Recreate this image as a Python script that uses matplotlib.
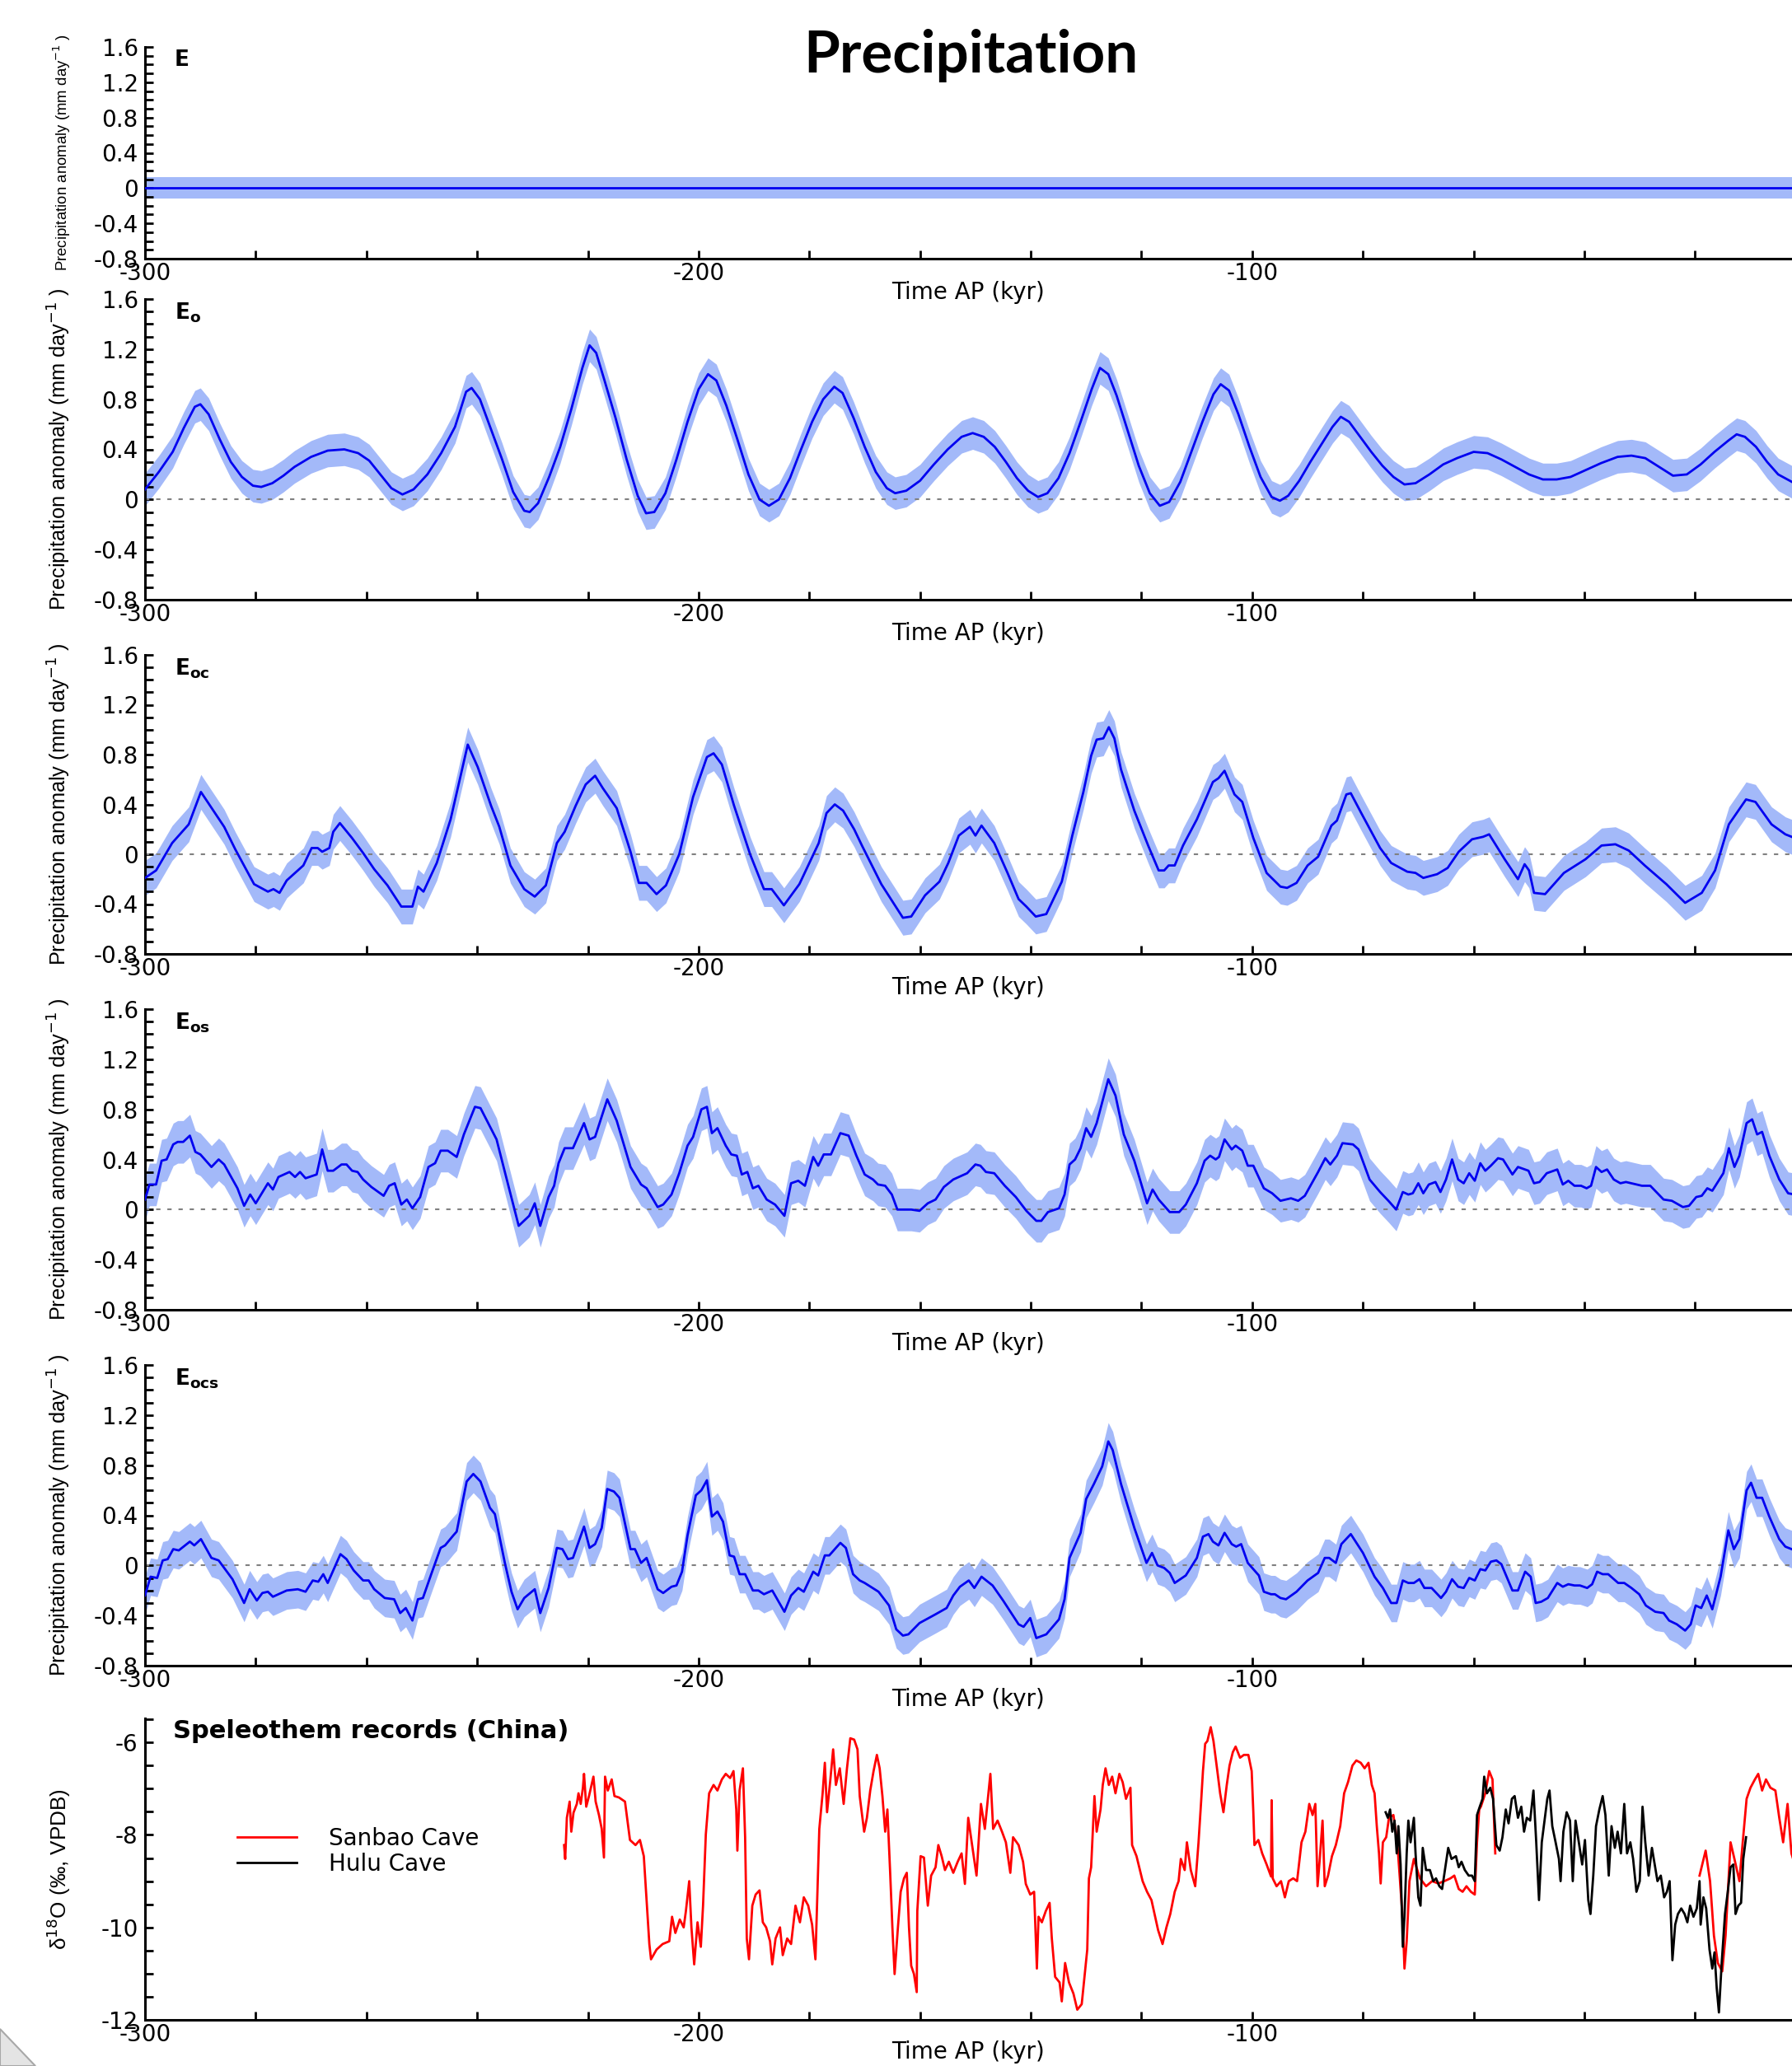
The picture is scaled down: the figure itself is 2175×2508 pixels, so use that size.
import numpy as np
import matplotlib
matplotlib.use('Agg')
import matplotlib.pyplot as plt
from matplotlib.ticker import MultipleLocator, FuncFormatter
from matplotlib.patches import Polygon
from matplotlib.lines import Line2D

plt.rcParams['axes.unicode_minus'] = False
plt.rcParams['font.family'] = ['DejaVu Sans']
plt.rcParams['mathtext.fontset'] = 'dejavusans'

# ---------------- data (time in kyr AP, anomaly in mm/day) ----------------
E_T = [-300, 0]
E_V = [0.0, 0.0]
E_ERR = 0.12

EO = np.array([(-300,0.08),(-297.5,0.22),(-295,0.38),(-293,0.57),(-291,0.74),(-290,0.76),(-288.5,0.68),(-286.5,0.48),(-284.5,0.30),(-282.5,0.18),(-280.5,0.11),(-279,0.10),(-277,0.13),(-275,0.19),(-273,0.26),(-270,0.34),(-267,0.39),(-264,0.40),(-261.5,0.37),(-259.5,0.31),(-257.5,0.20),(-255.5,0.09),(-253.5,0.04),(-251.5,0.08),(-249,0.20),(-246.5,0.37),(-244,0.58),(-242,0.86),(-241,0.89),(-239.5,0.80),(-237.5,0.56),(-235.5,0.32),(-233.5,0.06),(-231.5,-0.09),(-230.5,-0.10),(-229,-0.03),(-227,0.18),(-225,0.42),(-223,0.72),(-221,1.05),(-219.7,1.23),(-218.5,1.17),(-217,0.95),(-215,0.65),(-213,0.32),(-211,0.03),(-209.5,-0.11),(-208,-0.10),(-206,0.05),(-204,0.32),(-202,0.62),(-200,0.88),(-198.3,1.0),(-196.8,0.95),(-195,0.75),(-193,0.48),(-191,0.20),(-189,0.0),(-187.3,-0.05),(-185.5,0.0),(-183.5,0.17),(-181.5,0.40),(-179.5,0.62),(-177.5,0.80),(-175.5,0.90),(-174,0.85),(-172,0.65),(-170,0.42),(-168,0.22),(-166,0.09),(-164.5,0.05),(-162.5,0.07),(-160,0.15),(-157.5,0.28),(-155,0.40),(-152.5,0.50),(-150.5,0.53),(-148.5,0.50),(-146.5,0.42),(-144.5,0.30),(-142.5,0.17),(-140.5,0.07),(-138.7,0.02),(-137,0.05),(-135,0.17),(-133,0.37),(-131,0.62),(-129,0.88),(-127.5,1.05),(-126,1.0),(-124.5,0.83),(-122.5,0.55),(-120.5,0.27),(-118.5,0.05),(-116.7,-0.05),(-115,-0.02),(-113,0.14),(-111,0.38),(-109,0.62),(-107,0.84),(-105.7,0.92),(-104.2,0.87),(-102.5,0.68),(-100.5,0.42),(-98.5,0.18),(-96.5,0.02),(-95,-0.01),(-93.5,0.03),(-91.5,0.15),(-89.5,0.30),(-87.5,0.44),(-85.5,0.58),(-84,0.66),(-82.5,0.62),(-80.5,0.50),(-78.5,0.38),(-76.5,0.27),(-74.5,0.18),(-72.5,0.12),(-70.5,0.13),(-68,0.20),(-65.5,0.28),(-63,0.33),(-60,0.38),(-57.5,0.37),(-55,0.32),(-52.5,0.26),(-50,0.20),(-47.5,0.16),(-45,0.16),(-42.5,0.18),(-40,0.23),(-37,0.29),(-34,0.34),(-31.5,0.35),(-29,0.33),(-26.5,0.26),(-24,0.19),(-21.5,0.20),(-19,0.28),(-16.5,0.38),(-14,0.47),(-12.5,0.52),(-11,0.50),(-9,0.42),(-7,0.30),(-5,0.20),(-2.5,0.14)])
EO_ERR = 0.13

EOC = np.array([(-300,-0.19),(-298,-0.13),(-295.1,0.09),(-292.1,0.24),(-289.9,0.50),(-285.7,0.22),(-283.7,0.04),(-280.3,-0.24),(-277.8,-0.30),(-276.8,-0.28),(-275.7,-0.31),(-274.4,-0.21),(-271.4,-0.09),(-269.9,0.05),(-268.8,0.05),(-268,0.02),(-266.7,0.05),(-266,0.18),(-264.8,0.25),(-262.6,0.13),(-260.6,0.01),(-258.6,-0.12),(-256.2,-0.25),(-253.7,-0.42),(-251.7,-0.42),(-250.7,-0.26),(-249.7,-0.30),(-247.3,-0.07),(-244.8,0.28),(-241.7,0.88),(-239.9,0.70),(-237.5,0.39),(-236,0.22),(-234,-0.09),(-231.5,-0.28),(-229.6,-0.34),(-227.6,-0.25),(-225.6,0.09),(-224.2,0.18),(-222.2,0.39),(-220.4,0.56),(-218.7,0.63),(-217.3,0.53),(-214.8,0.37),(-212.3,0.02),(-210.8,-0.23),(-209.4,-0.23),(-207.6,-0.32),(-205.9,-0.25),(-203.5,0.0),(-201,0.46),(-198.5,0.78),(-197.3,0.81),(-195.8,0.72),(-193.6,0.39),(-190.7,0.0),(-188.2,-0.28),(-186.8,-0.28),(-184.6,-0.41),(-181.8,-0.24),(-178.3,0.09),(-176.9,0.33),(-175.4,0.40),(-173.9,0.35),(-171.9,0.20),(-170.5,0.07),(-167,-0.24),(-163.1,-0.51),(-161.6,-0.50),(-159.1,-0.33),(-156.5,-0.22),(-154.9,-0.07),(-153,0.15),(-151,0.22),(-150,0.15),(-148.9,0.23),(-146.6,0.09),(-144.2,-0.15),(-142.2,-0.36),(-140.8,-0.42),(-139.1,-0.50),(-137.2,-0.48),(-134.4,-0.22),(-132.5,0.15),(-130.5,0.50),(-129.1,0.79),(-128.1,0.92),(-126.9,0.93),(-125.9,1.02),(-124.9,0.93),(-123.7,0.68),(-121.3,0.35),(-118.8,0.07),(-116.9,-0.13),(-115.9,-0.13),(-115.1,-0.09),(-114,-0.09),(-112.5,0.07),(-110,0.28),(-107.1,0.58),(-106.1,0.61),(-105,0.67),(-103.2,0.48),(-101.8,0.42),(-99.8,0.13),(-97.4,-0.15),(-94.9,-0.26),(-93.7,-0.27),(-92,-0.23),(-90,-0.09),(-88.1,-0.02),(-85.7,0.23),(-84.7,0.27),(-83,0.48),(-82.2,0.49),(-80.3,0.33),(-76.9,0.05),(-74.9,-0.07),(-72,-0.14),(-70.5,-0.15),(-69.1,-0.19),(-66.6,-0.16),(-64.7,-0.11),(-62.7,0.02),(-60.3,0.12),(-58.3,0.14),(-57.2,0.16),(-54.4,-0.04),(-52,-0.20),(-50.8,-0.08),(-50,-0.13),(-49.1,-0.31),(-47.1,-0.32),(-43.7,-0.15),(-39.8,-0.04),(-36.9,0.07),(-34.4,0.08),(-32,0.03),(-29.1,-0.09),(-25.2,-0.24),(-21.8,-0.39),(-18.8,-0.31),(-16.4,-0.13),(-13.9,0.24),(-12.5,0.33),(-10.8,0.44),(-9.1,0.42),(-6.2,0.24),(-3.7,0.16),(-2,0.13)])
EOC_ERR = 0.14

EOS = np.array([(-300,0.08),(-299.2,0.20),(-298,0.20),(-297,0.39),(-296.1,0.40),(-294.9,0.52),(-294.1,0.54),(-293.1,0.54),(-291.9,0.59),(-290.9,0.46),(-290,0.44),(-288,0.34),(-286.7,0.40),(-285.7,0.36),(-283.3,0.17),(-282.1,0.03),(-281,0.12),(-280,0.05),(-277.8,0.21),(-276.9,0.16),(-275.9,0.26),(-274.9,0.28),(-273.9,0.30),(-272.9,0.26),(-272,0.30),(-271,0.25),(-269,0.28),(-268,0.48),(-267,0.31),(-266,0.31),(-264.5,0.36),(-263.6,0.36),(-262.6,0.31),(-261.6,0.30),(-260.6,0.24),(-259.1,0.18),(-256.9,0.11),(-255.9,0.19),(-254.9,0.21),(-253.7,0.04),(-252.7,0.08),(-251.7,0.01),(-250.3,0.10),(-248.8,0.34),(-247.6,0.37),(-246.6,0.47),(-245.3,0.47),(-243.7,0.42),(-242.4,0.60),(-240.4,0.82),(-239.4,0.81),(-236.5,0.56),(-235,0.30),(-232.5,-0.13),(-230.6,-0.05),(-229.6,0.05),(-228.6,-0.13),(-227.1,0.10),(-226.1,0.19),(-225.3,0.37),(-224.2,0.49),(-222.7,0.49),(-221.7,0.59),(-220.7,0.69),(-219.7,0.56),(-218.7,0.58),(-216.5,0.88),(-214.8,0.71),(-212.3,0.34),(-210.4,0.20),(-209.4,0.17),(-207.4,0.02),(-206.4,0.04),(-204.9,0.12),(-203.5,0.29),(-202,0.51),(-201,0.58),(-199.5,0.80),(-198.5,0.82),(-197.6,0.61),(-196.6,0.65),(-195.1,0.51),(-194.1,0.44),(-193.1,0.43),(-192.2,0.28),(-191.2,0.30),(-190.2,0.17),(-189.2,0.19),(-187.7,0.08),(-186.2,0.04),(-184.5,-0.05),(-183.3,0.21),(-182,0.23),(-180.8,0.19),(-179.3,0.42),(-178.4,0.35),(-177.4,0.44),(-176.1,0.44),(-174.4,0.61),(-172.9,0.59),(-171.5,0.43),(-170,0.28),(-168.5,0.24),(-167.6,0.20),(-166.3,0.19),(-165.1,0.12),(-164.1,0.0),(-161.6,0.0),(-160.1,-0.01),(-158.6,0.05),(-157.2,0.08),(-155.7,0.18),(-154,0.24),(-151.5,0.29),(-150,0.36),(-149.1,0.35),(-148.1,0.30),(-146.6,0.29),(-144.7,0.19),(-142.7,0.10),(-140.8,-0.01),(-139,-0.09),(-138.1,-0.09),(-136.9,-0.02),(-134.9,0.01),(-133.9,0.12),(-133,0.36),(-132,0.40),(-131,0.49),(-130,0.65),(-129.1,0.58),(-128.1,0.69),(-126,1.04),(-124.7,0.91),(-123.2,0.60),(-121.3,0.39),(-119,0.05),(-118,0.16),(-116.9,0.08),(-114.9,-0.02),(-113.2,-0.02),(-112,0.04),(-110,0.21),(-108.6,0.39),(-107.6,0.43),(-106.6,0.40),(-106,0.42),(-105,0.56),(-103.7,0.48),(-103,0.51),(-101.8,0.47),(-100.8,0.35),(-99.8,0.35),(-97.9,0.17),(-96.4,0.13),(-94.9,0.07),(-93,0.09),(-91.7,0.07),(-90.5,0.11),(-88.1,0.30),(-86.8,0.41),(-85.9,0.36),(-84.7,0.43),(-83.7,0.53),(-81.8,0.52),(-80.8,0.48),(-78.8,0.24),(-76.9,0.14),(-75.4,0.07),(-74,0.0),(-72.8,0.14),(-71.8,0.12),(-71,0.13),(-70,0.21),(-69.1,0.13),(-68.1,0.20),(-66.9,0.22),(-66,0.14),(-65,0.24),(-63.9,0.40),(-62.8,0.24),(-61.8,0.21),(-60.8,0.29),(-59.8,0.23),(-58.8,0.37),(-57.9,0.31),(-56.9,0.35),(-55.6,0.41),(-54.7,0.40),(-53,0.28),(-52,0.34),(-50.1,0.31),(-49.1,0.21),(-48.1,0.22),(-46.8,0.29),(-44.9,0.32),(-43.9,0.20),(-42.9,0.23),(-41.8,0.19),(-40.6,0.19),(-39.6,0.17),(-38.8,0.19),(-37.9,0.34),(-36.9,0.30),(-35.9,0.32),(-34.7,0.24),(-33.5,0.21),(-32.5,0.22),(-29.6,0.19),(-28.1,0.19),(-25.7,0.08),(-24.2,0.07),(-22.2,0.02),(-21.1,0.03),(-19.8,0.10),(-18.8,0.11),(-17.8,0.17),(-16.9,0.15),(-14.9,0.29),(-13.9,0.49),(-12.9,0.34),(-12,0.43),(-10.7,0.69),(-9.7,0.72),(-8.8,0.60),(-7.9,0.62),(-6.6,0.43),(-4.8,0.24),(-3.2,0.13),(-2,0.12)])
EOS_ERR = 0.17

EOCS = np.array([(-300,-0.24),(-299,-0.09),(-297.8,-0.10),(-296.8,0.04),(-295.9,0.05),(-294.9,0.13),(-293.9,0.12),(-291.9,0.19),(-291.1,0.16),(-289.9,0.21),(-288,0.06),(-286.7,0.04),(-284.2,-0.11),(-282.1,-0.30),(-281.1,-0.19),(-279.8,-0.28),(-278.8,-0.22),(-277.8,-0.21),(-276.9,-0.25),(-274.4,-0.20),(-272.4,-0.19),(-271,-0.21),(-269.7,-0.12),(-268.7,-0.13),(-267.8,-0.07),(-267,-0.14),(-264.7,0.09),(-263.6,0.05),(-262.3,-0.04),(-260.6,-0.12),(-259.6,-0.12),(-258.6,-0.19),(-256.7,-0.26),(-255,-0.27),(-253.9,-0.38),(-252.9,-0.34),(-251.7,-0.44),(-250.7,-0.27),(-249.8,-0.26),(-248.3,-0.07),(-246.6,0.14),(-245.8,0.16),(-244.3,0.24),(-243.7,0.27),(-241.9,0.67),(-240.7,0.73),(-239.4,0.67),(-237.7,0.46),(-236.8,0.41),(-235,0.02),(-233.8,-0.21),(-232.7,-0.35),(-231.5,-0.26),(-229.6,-0.19),(-228.6,-0.38),(-227.1,-0.18),(-225.6,0.14),(-224.6,0.13),(-223.6,0.05),(-222.7,0.06),(-220.7,0.31),(-219.7,0.14),(-218.7,0.17),(-217.5,0.30),(-216.5,0.61),(-215.3,0.59),(-214.3,0.54),(-212.3,0.13),(-211.5,0.13),(-210.4,0.02),(-209.4,0.06),(-207.4,-0.19),(-206.4,-0.22),(-204.9,-0.17),(-204,-0.16),(-203,-0.05),(-202,0.24),(-200.5,0.56),(-199.5,0.60),(-198.5,0.68),(-197.6,0.39),(-196.6,0.43),(-195.6,0.35),(-194.4,0.08),(-193.6,0.07),(-192.6,-0.07),(-191.6,-0.07),(-190.2,-0.20),(-189.2,-0.20),(-188.2,-0.23),(-186.7,-0.20),(-184.5,-0.37),(-183.3,-0.24),(-182,-0.18),(-181,-0.21),(-179.3,-0.05),(-178.4,-0.08),(-177.2,0.08),(-176.4,0.08),(-174.4,0.18),(-173.4,0.14),(-172.1,-0.07),(-170.9,-0.12),(-170,-0.14),(-167.5,-0.21),(-165.6,-0.32),(-164.3,-0.51),(-163.1,-0.56),(-162.1,-0.55),(-160.1,-0.46),(-157.2,-0.39),(-155.2,-0.34),(-154,-0.24),(-152.8,-0.17),(-151.2,-0.12),(-150.2,-0.18),(-148.9,-0.09),(-146.9,-0.16),(-145,-0.28),(-142.2,-0.47),(-141.3,-0.49),(-140.1,-0.42),(-139,-0.58),(-137.2,-0.55),(-134.9,-0.43),(-133.9,-0.27),(-133,0.06),(-131,0.26),(-130,0.53),(-128.6,0.65),(-127.1,0.79),(-126,0.99),(-125.2,0.92),(-123.7,0.65),(-121.3,0.30),(-119.1,0.02),(-118.1,0.10),(-117.1,0.0),(-115.9,-0.02),(-114.9,-0.06),(-114,-0.14),(-112,-0.08),(-110,0.06),(-108.9,0.23),(-107.9,0.25),(-107.1,0.19),(-106.1,0.16),(-105,0.26),(-103.7,0.17),(-102.9,0.15),(-102,0.17),(-100.8,0.02),(-98.8,-0.08),(-97.9,-0.21),(-96.6,-0.23),(-95.9,-0.23),(-94.9,-0.26),(-93.9,-0.27),(-92,-0.21),(-90,-0.12),(-88.1,-0.06),(-86.9,0.06),(-86.1,0.06),(-84.9,0.02),(-83.9,0.17),(-82.2,0.25),(-80,0.10),(-77.9,-0.09),(-76.4,-0.18),(-74.9,-0.30),(-73.9,-0.30),(-72.8,-0.12),(-71.8,-0.14),(-70.8,-0.14),(-69.8,-0.11),(-68.9,-0.18),(-67.6,-0.18),(-65.9,-0.26),(-65,-0.21),(-63.9,-0.11),(-62.8,-0.17),(-61.8,-0.18),(-60.8,-0.10),(-59.8,-0.12),(-58.8,-0.03),(-57.9,-0.04),(-56.9,0.03),(-55.9,0.04),(-55,0.01),(-53,-0.20),(-52,-0.20),(-50.7,-0.05),(-49.7,-0.09),(-48.8,-0.30),(-47.8,-0.29),(-46.6,-0.26),(-44.9,-0.14),(-43.9,-0.17),(-42.9,-0.15),(-41.8,-0.16),(-40.8,-0.16),(-39.5,-0.18),(-38.6,-0.15),(-37.7,-0.05),(-36.7,-0.07),(-35.7,-0.07),(-33.9,-0.14),(-32.8,-0.14),(-31.5,-0.18),(-30.1,-0.23),(-28.9,-0.32),(-27.2,-0.37),(-25.7,-0.38),(-24.7,-0.44),(-23.3,-0.47),(-21.8,-0.52),(-20.8,-0.47),(-19.9,-0.32),(-18.9,-0.34),(-17.9,-0.24),(-16.9,-0.35),(-15.4,-0.09),(-14,0.28),(-13,0.13),(-12,0.21),(-10.7,0.60),(-9.9,0.66),(-8.9,0.54),(-7.9,0.54),(-6.6,0.39),(-4.8,0.21),(-3.7,0.15),(-2,0.12)])
EOCS_ERR = 0.15

# Speleothem d18O (permil VPDB)
SANBAO_A = np.array([(-224.3,-8.22),(-224.1,-8.52),(-223.8,-7.63),(-223.3,-7.28),(-223.0,-7.93),(-222.6,-7.52),(-222.0,-7.33),(-221.7,-7.10),(-221.3,-7.33),(-220.9,-6.98),(-220.7,-6.68),(-220.3,-7.39),(-219.8,-7.16),(-219.0,-6.74),(-218.6,-7.28),(-218.0,-7.57),(-217.5,-7.87),(-217.1,-8.49),(-216.9,-6.74),(-216.4,-7.04),(-215.7,-6.80),(-215.2,-7.16),(-214.4,-7.19),(-213.3,-7.28),(-212.4,-8.11),(-211.4,-8.22),(-210.6,-8.11),(-209.9,-8.46),(-209.4,-9.41),(-208.9,-10.36),(-208.6,-10.69),(-207.6,-10.48),(-206.5,-10.36),(-205.3,-10.30),(-204.8,-9.77),(-204.2,-10.12),(-203.4,-9.83),(-202.7,-10.0),(-202.3,-9.65),(-201.7,-9.0),(-201.3,-10.0),(-200.8,-10.80),(-200.2,-9.89),(-199.6,-10.42),(-199.2,-9.53),(-198.7,-7.99),(-198.1,-7.10),(-197.3,-6.92),(-196.6,-7.04),(-195.8,-6.80),(-195.1,-6.68),(-194.3,-6.77),(-193.7,-6.62),(-193.2,-7.45),(-193.0,-8.34),(-192.6,-7.04),(-192.0,-6.56),(-191.6,-8.05),(-191.3,-10.24),(-190.9,-10.69),(-190.3,-9.53),(-189.7,-9.29),(-189.0,-9.20),(-188.4,-9.89),(-187.8,-10.0),(-187.1,-10.30),(-186.7,-10.80),(-186.1,-10.24),(-185.3,-10.0),(-184.8,-10.60),(-184.0,-10.24),(-183.3,-10.36),(-182.5,-9.53),(-181.7,-9.89),(-181.0,-9.35),(-180.2,-9.53),(-179.5,-9.94),(-178.9,-10.69),(-178.5,-9.06),(-178.2,-7.87),(-177.6,-7.10),(-177.2,-6.44),(-176.8,-7.51),(-176.2,-6.80),(-175.7,-6.15),(-175.2,-6.92),(-174.5,-6.56),(-173.8,-7.33),(-173.2,-6.56),(-172.6,-5.91),(-171.9,-5.94),(-171.3,-6.15),(-170.9,-7.16),(-170.1,-7.93),(-169.6,-7.63),(-169.0,-7.04),(-168.4,-6.62),(-167.8,-6.27),(-167.3,-6.56),(-166.8,-7.16),(-166.3,-7.93),(-165.9,-7.45),(-165.4,-8.82),(-165.0,-10.0),(-164.6,-11.01),(-164.0,-10.0),(-163.5,-9.23),(-162.9,-8.94),(-162.4,-8.82),(-162.0,-10.0),(-161.6,-10.83),(-161.1,-11.01),(-160.6,-11.40),(-160.5,-9.65),(-159.9,-8.46),(-159.3,-8.49),(-158.6,-9.53),(-158.0,-8.88),(-157.2,-8.70),(-156.7,-8.22),(-156.1,-8.46),(-155.5,-8.76),(-154.8,-8.58),(-154.0,-8.82),(-153.2,-8.58),(-152.5,-8.40),(-151.9,-9.06),(-151.3,-7.63),(-150.6,-8.22),(-149.8,-8.88),(-149.0,-7.33),(-148.3,-7.87),(-147.3,-6.68),(-146.8,-7.87),(-146.0,-7.69),(-145.2,-7.93),(-144.5,-8.16),(-143.7,-8.82),(-143.2,-8.05),(-142.2,-8.22),(-141.4,-8.58),(-140.9,-9.06),(-140.1,-9.29),(-139.4,-9.23),(-138.9,-10.89),(-138.6,-9.77),(-138.0,-9.89),(-137.3,-9.65),(-136.6,-9.47),(-136.2,-10.24),(-135.6,-11.07),(-134.8,-11.19),(-134.4,-11.60),(-133.8,-10.77),(-133.1,-11.19),(-132.3,-11.43),(-131.6,-11.78),(-130.8,-11.66),(-130.3,-11.07),(-129.8,-10.48),(-129.5,-8.94),(-129.1,-8.70),(-128.5,-7.16),(-128.1,-7.93),(-127.4,-7.45),(-127.0,-6.92),(-126.5,-6.56),(-125.9,-6.92),(-125.3,-6.74),(-124.7,-7.10),(-124.0,-6.68),(-123.4,-6.86),(-122.8,-7.22),(-122.0,-6.98),(-121.7,-8.22),(-120.9,-8.46),(-119.8,-9.0),(-119.0,-9.23),(-118.2,-9.41),(-117.0,-10.06),(-116.2,-10.36),(-115.5,-10.0),(-114.8,-9.71),(-114.0,-9.23),(-113.3,-9.0),(-112.9,-8.52),(-112.2,-8.76),(-111.8,-8.16),(-111.1,-8.76),(-110.3,-9.11),(-109.7,-8.16),(-109.2,-7.22),(-108.9,-6.62),(-108.5,-6.03),(-108.1,-5.97),(-107.5,-5.67),(-107.0,-5.97),(-106.3,-6.62),(-105.8,-7.10),(-105.2,-7.51),(-104.6,-6.92),(-104.1,-6.50),(-103.5,-6.21),(-103.0,-6.09),(-102.2,-6.33),(-101.5,-6.27),(-100.7,-6.27),(-100.1,-6.62),(-99.8,-7.51),(-99.6,-8.22),(-98.9,-8.11),(-98.2,-8.40),(-97.4,-8.64),(-96.6,-8.9),(-96.5,-7.25),(-96.3,-8.94),(-95.6,-9.11),(-94.8,-9.0),(-94.1,-9.35),(-93.4,-9.0),(-92.6,-8.94),(-91.9,-9.0),(-91.1,-8.16),(-90.4,-7.93),(-89.7,-7.33),(-89.1,-7.57),(-88.6,-7.33),(-88.2,-9.11),(-87.8,-8.52),(-87.3,-7.69),(-86.9,-9.11),(-86.3,-8.88),(-85.6,-8.46),(-84.9,-8.22),(-84.1,-7.81),(-83.4,-7.10),(-82.7,-6.86),(-81.9,-6.50),(-81.2,-6.39),(-80.4,-6.44),(-79.7,-6.56),(-79.0,-6.44),(-78.4,-6.92),(-77.9,-7.10),(-77.5,-7.81),(-77.1,-8.40),(-76.8,-9.05),(-76.4,-8.16),(-75.8,-8.05),(-75.3,-7.63),(-74.5,-7.57),(-73.8,-8.16),(-73.3,-9.0),(-72.8,-9.88),(-72.5,-10.89),(-72.1,-10.30),(-71.6,-9.0),(-70.8,-8.52),(-69.7,-8.94),(-68.6,-9.11),(-67.5,-9.0),(-66.4,-9.05),(-65.3,-9.0),(-64.2,-8.94),(-63.5,-8.88),(-62.7,-9.17),(-62.0,-9.23),(-61.3,-9.11),(-60.5,-9.23),(-59.8,-9.29),(-59.4,-8.16),(-59.0,-7.45),(-58.7,-7.39),(-57.9,-7.10),(-57.2,-6.62),(-56.6,-6.80),(-56.1,-8.40)])
SANBAO_B = np.array([(-19.2,-8.88),(-18.1,-8.34),(-17.3,-9.0),(-16.6,-10.18),(-15.9,-10.77),(-15.1,-10.95),(-14.5,-10.18),(-13.6,-8.16),(-12.9,-8.52),(-12.0,-9.0),(-11.4,-8.16),(-10.7,-7.22),(-10.0,-6.98),(-9.2,-6.80),(-8.6,-6.68),(-7.9,-7.04),(-7.2,-6.80),(-6.4,-6.98),(-5.5,-7.04),(-4.8,-7.63),(-4.1,-8.16),(-3.3,-7.33),(-2.6,-8.40),(-2.0,-8.64)])
HULU = np.array([(-75.9,-7.51),(-75.5,-7.63),(-75.1,-7.45),(-74.7,-7.93),(-74.3,-7.69),(-73.9,-8.40),(-73.6,-7.81),(-73.2,-8.64),(-72.8,-10.42),(-72.5,-9.77),(-72.1,-8.40),(-71.8,-7.69),(-71.4,-8.16),(-70.8,-7.63),(-70.5,-8.40),(-70.0,-9.35),(-69.6,-9.53),(-69.2,-8.28),(-68.6,-8.76),(-67.9,-8.76),(-67.3,-9.0),(-66.8,-8.94),(-66.2,-9.11),(-65.7,-9.17),(-65.2,-8.76),(-64.6,-8.28),(-64.0,-8.52),(-63.2,-8.46),(-62.7,-8.70),(-62.2,-8.58),(-61.6,-8.76),(-60.9,-8.88),(-60.3,-8.88),(-59.8,-9.0),(-59.4,-7.57),(-58.9,-7.39),(-58.4,-7.22),(-58.1,-6.74),(-57.6,-7.10),(-57.0,-6.98),(-56.5,-7.22),(-55.9,-8.22),(-55.3,-8.34),(-54.8,-8.05),(-54.2,-7.45),(-53.7,-7.75),(-53.1,-7.22),(-52.6,-7.16),(-52.0,-7.63),(-51.4,-7.39),(-50.9,-7.93),(-50.4,-7.63),(-49.8,-7.69),(-49.2,-7.04),(-48.7,-8.16),(-48.2,-9.41),(-47.7,-8.16),(-47.2,-7.69),(-46.7,-7.22),(-46.3,-7.04),(-45.8,-7.81),(-45.2,-8.16),(-44.6,-8.52),(-44.3,-9.0),(-43.8,-7.93),(-43.2,-7.51),(-42.6,-7.69),(-42.1,-9.0),(-41.6,-7.69),(-41.0,-8.16),(-40.4,-8.64),(-39.9,-8.11),(-39.3,-9.41),(-38.9,-9.71),(-38.4,-8.88),(-37.9,-7.81),(-37.3,-7.45),(-36.7,-7.16),(-36.2,-7.57),(-35.6,-8.88),(-35.1,-7.81),(-34.5,-8.28),(-34.0,-7.93),(-33.4,-8.40),(-32.8,-7.33),(-32.3,-8.40),(-31.7,-8.16),(-31.2,-8.52),(-30.6,-9.23),(-30.0,-9.0),(-29.5,-7.39),(-29.0,-8.16),(-28.4,-8.88),(-27.8,-8.28),(-27.3,-8.64),(-26.8,-9.0),(-26.2,-8.88),(-25.6,-9.35),(-25.1,-9.23),(-24.6,-9.0),(-24.1,-10.71),(-23.6,-9.94),(-23.1,-9.71),(-22.5,-9.59),(-21.9,-9.71),(-21.4,-9.89),(-20.9,-9.53),(-20.3,-9.77),(-19.7,-9.59),(-19.2,-9.0),(-19.0,-9.94),(-18.5,-9.35),(-18.0,-9.59),(-17.4,-10.48),(-16.9,-10.89),(-16.5,-10.54),(-16.1,-11.31),(-15.7,-11.84),(-15.2,-10.77),(-14.6,-9.71),(-14.1,-9.23),(-13.6,-8.70),(-13.1,-8.64),(-12.7,-9.71),(-12.2,-9.53),(-11.7,-9.47),(-11.3,-8.52),(-10.8,-8.05)])

X_LIM = (-300, -2.5)
PREC_YLIM = (-0.8, 1.6)
SPEL_YLIM = (-12, -5.48)

# ---------------- layout ----------------
W, H = 2175, 2508
fig = plt.figure(figsize=(W / 100, H / 100), dpi=100)
fig.patch.set_facecolor('white')

LEFT, RIGHT = 176, 2175

def rect(top, bottom):
    return [LEFT / W, 1 - bottom / H, (RIGHT - LEFT) / W, (bottom - top) / H]

YL_FAMILY = ['Liberation Sans', 'DejaVu Sans']
BAND = '#a3b9f9'
LINE = '#0000f0'
TICK_FS = 20

def style_axes(ax, ylim, ymajor, yminor, yfmt):
    ax.set_xlim(*X_LIM)
    ax.set_ylim(*ylim)
    for s in ('top', 'right'):
        ax.spines[s].set_visible(False)
    for s in ('left', 'bottom'):
        ax.spines[s].set_linewidth(2.2)
    ax.xaxis.set_major_locator(MultipleLocator(100))
    ax.xaxis.set_minor_locator(MultipleLocator(20))
    ax.xaxis.set_major_formatter(FuncFormatter(lambda v, _: f'{v:.0f}'))
    ax.yaxis.set_major_locator(MultipleLocator(ymajor))
    ax.yaxis.set_minor_locator(MultipleLocator(yminor))
    ax.yaxis.set_major_formatter(FuncFormatter(yfmt))
    ax.tick_params(axis='both', which='both', direction='in', length=7, width=2,
                   labelsize=TICK_FS)
    ax.tick_params(axis='y', which='major', pad=6)
    ax.tick_params(axis='x', which='major', pad=3)
    ax.set_facecolor('none')

def prec_fmt(v, _):
    return '0' if abs(v) < 1e-9 else f'{v:.1f}'

panels = [
    ('E', '', np.array([E_T, E_V]).T, E_ERR, 57, 314, False),
    ('E', 'o', EO, EO_ERR, 363, 728, True),
    ('E', 'oc', EOC, EOC_ERR, 795, 1158, True),
    ('E', 'os', EOS, EOS_ERR, 1225, 1590, True),
    ('E', 'ocs', EOCS, EOCS_ERR, 1657, 2022, True),
]

ylab = 'Precipitation anomaly (mm day$^{-1}$ )'
for i, (lab, sub, data, err, top, bot, zline) in enumerate(panels):
    ax = fig.add_axes(rect(top, bot))
    style_axes(ax, PREC_YLIM, 0.4, 0.1, prec_fmt)
    t, v = data[:, 0], data[:, 1]
    ax.fill_between(t, v - err, v + err, color=BAND, lw=0, zorder=1)
    if zline:
        ax.axhline(0, color='#808080', lw=1.5, ls=(0, (2.5, 4)), zorder=2)
    ax.plot(t, v, color=LINE, lw=2.0, zorder=3)
    hpx = bot - top
    txt = lab if not sub else lab + r'$_{\mathbf{' + sub + '}}$'
    ax.text(36 / (RIGHT - LEFT), 1 - 3 / hpx, txt, transform=ax.transAxes,
            ha='left', va='top', fontsize=19, fontweight='bold')
    fs = 13.4 if i == 0 else 18.3
    ax.set_ylabel(ylab, family=YL_FAMILY, fontsize=fs)
    ax.yaxis.set_label_coords(-88 / (RIGHT - LEFT), 0.5)
    ax.set_xlabel('Time AP (kyr)', fontsize=TICK_FS, labelpad=-4)

# speleothem panel
ax6 = fig.add_axes(rect(2086, 2452))
style_axes(ax6, SPEL_YLIM, 2, 0.5, lambda v, _: f'{v:.0f}')
ax6.plot(SANBAO_A[:, 0], SANBAO_A[:, 1], color='#ff0000', lw=2.0, zorder=2)
ax6.plot(SANBAO_B[:, 0], SANBAO_B[:, 1], color='#ff0000', lw=2.0, zorder=2)
ax6.plot(HULU[:, 0], HULU[:, 1], color='#000000', lw=2.0, zorder=3)
ax6.text(34 / (RIGHT - LEFT), 1 - 1 / 366, 'Speleothem records (China)',
         transform=ax6.transAxes, ha='left', va='top', fontsize=22, fontweight='bold')
ax6.set_ylabel('δ$^{18}$O (‰, VPDB)', family=YL_FAMILY, fontsize=18.8)
ax6.yaxis.set_label_coords(-88 / (RIGHT - LEFT), 0.5)
ax6.set_xlabel('Time AP (kyr)', fontsize=TICK_FS, labelpad=-5)
handles = [Line2D([], [], color='#ff0000', lw=2), Line2D([], [], color='#000000', lw=2)]
ax6.legend(handles, ['Sanbao Cave', 'Hulu Cave'], loc='upper left',
           bbox_to_anchor=(112 / (RIGHT - LEFT), 0.64), frameon=False, fontsize=TICK_FS,
           handlelength=2.6, handletextpad=1.4, labelspacing=0.1, borderpad=0,
           borderaxespad=0)

# title
fig.text(1178 / W, 1 - 88 / H, 'Precipitation', ha='center', va='baseline',
         fontsize=51, fontweight='bold', family=['Lato', 'Open Sans', 'DejaVu Sans'])

# page-curl decoration at bottom-left
fig.patches.append(Polygon([[0, 1 - 2463 / H], [43 / W, 0], [0, 0]], closed=True,
                           transform=fig.transFigure, facecolor='#e4e4e4',
                           edgecolor='#a8a8a8', lw=1.5))

fig.savefig('out.png', dpi=100, facecolor='white')
